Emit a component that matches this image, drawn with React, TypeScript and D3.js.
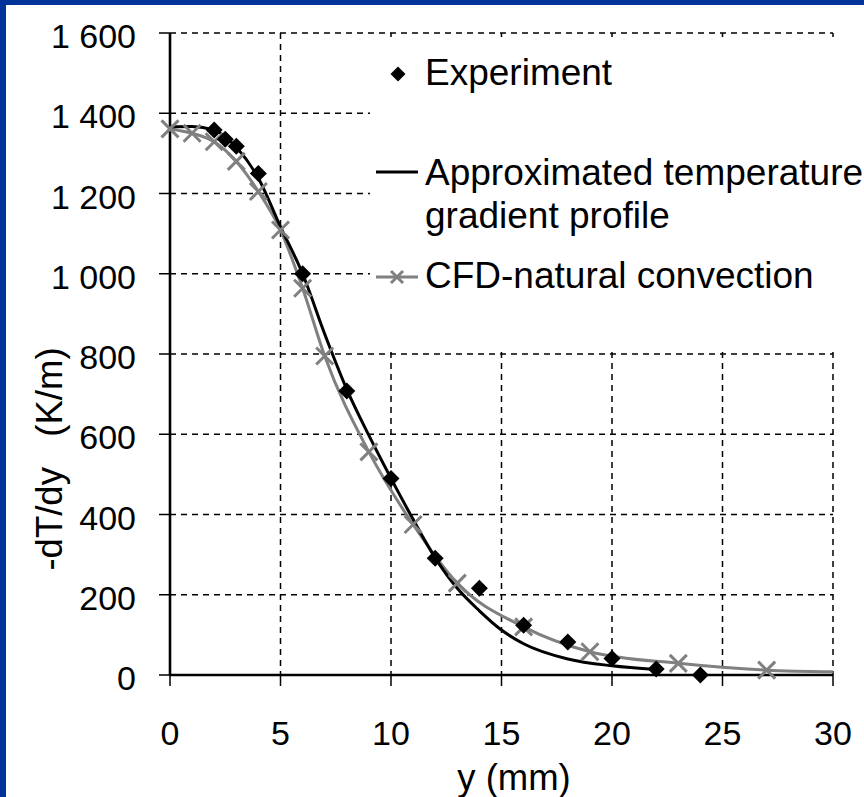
import React from "react";
import * as d3 from "d3";

const expX = [2, 2.5, 3, 4, 6, 8, 10, 12, 14, 16, 18, 20, 22, 24];
const expV = [1358, 1335, 1318, 1250, 1000, 708, 490, 291, 216, 124, 82, 41, 15, 0];

const approxX = [0, 1, 2, 3, 4, 5, 6, 7, 8, 9, 10, 11, 12, 13, 14, 15, 16, 18, 20, 22];
const approxV = [1366, 1367, 1358, 1315, 1238, 1117, 1000, 850, 712, 597, 490, 388, 292, 216, 160, 112, 78, 40, 23, 14];

const cfdX = [0, 1, 2, 3, 4, 5, 6, 7, 9, 11, 13, 16, 19, 23, 27];
const cfdV = [1361, 1350, 1329, 1280, 1205, 1109, 964, 795, 556, 375, 229, 120, 58, 29, 12];
const cfdEndX = [30];
const cfdEndV = [8];

const xTicks = [0, 5, 10, 15, 20, 25, 30];
const yTicks = [0, 200, 400, 600, 800, 1000, 1200, 1400, 1600];
const yTickLabels = ["0", "200", "400", "600", "800", "1 000", "1 200", "1 400", "1 600"];

const legendLabels = ["Experiment", "Approximated temperature", "gradient profile", "CFD-natural convection"];
const xTitle = "y (mm)";
const yTitle = "-dT/dy   (K/m)";

const W = 864;
const H = 797;
const FONT = "'Liberation Sans', Arial, sans-serif";

export default function App() {
  const x = d3.scaleLinear().domain([0, 30]).range([170, 833]);
  const y = d3.scaleLinear().domain([0, 1600]).range([675, 33]);

  const line = d3
    .line<[number, number]>()
    .x((d) => x(d[0]))
    .y((d) => y(d[1]))
    .curve(d3.curveMonotoneX);

  const approxData: [number, number][] = approxX.map((v, i) => [v, approxV[i]]);
  const cfdData: [number, number][] = cfdX.map((v, i) => [v, cfdV[i]]);
  const cfdLineData: [number, number][] = cfdData.concat(cfdEndX.map((v, i) => [v, cfdEndV[i]] as [number, number]));

  const diamond = (cx: number, cy: number, r: number) =>
    `M${cx},${cy - r}L${cx + r},${cy}L${cx},${cy + r}L${cx - r},${cy}Z`;
  const cross = (cx: number, cy: number, r: number) =>
    `M${cx - r},${cy - r}L${cx + r},${cy + r}M${cx - r},${cy + r}L${cx + r},${cy - r}`;

  return (
    <svg
      width={W}
      height={H}
      style={{ position: "absolute", left: 0, top: 0, background: "#fff" }}
      fontFamily={FONT}
    >
      <rect x={0} y={0} width={W} height={H} fill="#fff" />
      {/* blue frame */}
      <rect x={0} y={0} width={W} height={5} fill="#003399" />
      <rect x={0} y={0} width={6} height={H} fill="#003399" />

      {/* gridlines */}
      {yTicks.filter((t) => t > 0).map((t) => (
        <line key={"gy" + t} x1={x(0)} x2={x(30)} y1={y(t)} y2={y(t)} stroke="#000" strokeWidth={1.5} strokeDasharray="6,5" />
      ))}
      {xTicks.filter((t) => t > 0).map((t) => (
        <line key={"gx" + t} x1={x(t)} x2={x(t)} y1={y(1600)} y2={y(0)} stroke="#000" strokeWidth={1.5} strokeDasharray="6,5" />
      ))}

      {/* legend background */}
      <rect x={370} y={37} width={W - 370} height={311} fill="#fff" />

      {/* axes */}
      <line x1={x(0)} x2={x(0)} y1={y(1600)} y2={y(0)} stroke="#000" strokeWidth={2.6} />
      <line x1={x(0) - 1} x2={x(30)} y1={y(0)} y2={y(0)} stroke="#000" strokeWidth={2.6} />
      {yTicks.map((t) => (
        <line key={"ty" + t} x1={x(0) - 11} x2={x(0)} y1={y(t)} y2={y(t)} stroke="#000" strokeWidth={1.5} />
      ))}
      {xTicks.map((t) => (
        <line key={"tx" + t} x1={x(t)} x2={x(t)} y1={y(0)} y2={y(0) + 11} stroke="#000" strokeWidth={1.5} />
      ))}

      {/* tick labels */}
      {yTicks.map((t, i) => (
        <text key={"ly" + t} x={136} y={y(t) + 15} fontSize={34} textAnchor="end" fill="#000">
          {yTickLabels[i]}
        </text>
      ))}
      {xTicks.map((t) => (
        <text key={"lx" + t} x={x(t)} y={745} fontSize={34} textAnchor="middle" fill="#000">
          {t}
        </text>
      ))}

      {/* axis titles */}
      <text x={514} y={790} fontSize={36.5} textAnchor="middle" fill="#000">
        {xTitle}
      </text>
      <text
        transform={`translate(62,459) rotate(-90)`}
        fontSize={36.5}
        textAnchor="middle"
        fill="#000"
        style={{ whiteSpace: "pre" }}
      >
        {yTitle}
      </text>

      {/* series */}
      <path d={line(cfdLineData) || ""} fill="none" stroke="#808080" strokeWidth={3} />
      <path d={line(approxData) || ""} fill="none" stroke="#000" strokeWidth={3} />
      {cfdData.map((d, i) => (
        <path key={"c" + i} d={cross(x(d[0]), y(d[1]), 8.5)} stroke="#808080" strokeWidth={3} fill="none" />
      ))}
      {expX.map((v, i) => (
        <path key={"e" + i} d={diamond(x(v), y(expV[i]), 8.5)} fill="#000" />
      ))}

      {/* legend */}
      <path d={diamond(398, 74, 7.5)} fill="#000" />
      <text x={425} y={85} fontSize={37} fill="#000">{legendLabels[0]}</text>
      <line x1={376} x2={418} y1={172} y2={172} stroke="#000" strokeWidth={3} />
      <text x={425} y={185} fontSize={37} fill="#000">{legendLabels[1]}</text>
      <text x={425} y={228} fontSize={37} fill="#000">{legendLabels[2]}</text>
      <line x1={376} x2={418} y1={277} y2={277} stroke="#808080" strokeWidth={3} />
      <path d={cross(397, 277, 6)} stroke="#808080" strokeWidth={3} fill="none" />
      <text x={425} y={288} fontSize={37} fill="#000">{legendLabels[3]}</text>
    </svg>
  );
}
